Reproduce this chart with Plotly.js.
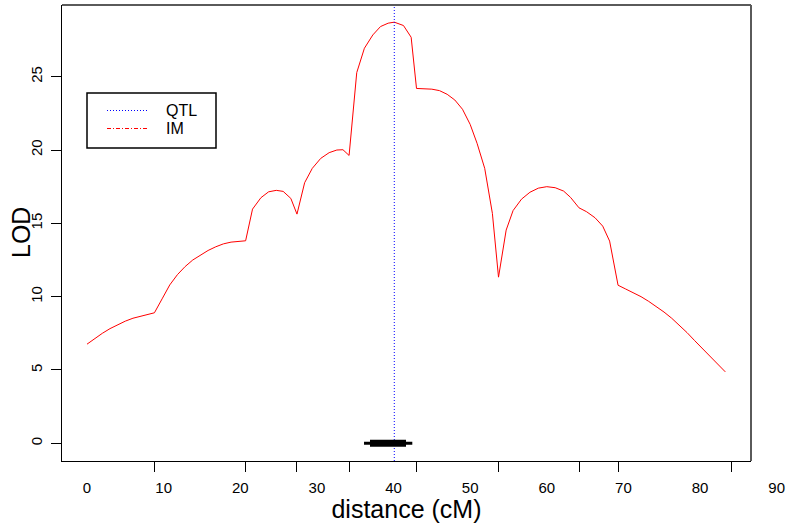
<!DOCTYPE html>
<html>
<head>
<meta charset="utf-8">
<script src="https://cdn.plot.ly/plotly-3.0.1.min.js"></script>
<style>
  html, body { margin: 0; padding: 0; background: #fff; }
  #chart { width: 786px; height: 526px; }
</style>
</head>
<body>
<div id="chart"></div>
<script>
// Interval-mapping LOD profile along the chromosome (cM)
const distance = [0, 1, 2, 3, 4, 5, 6, 7, 8, 8.8, 9.8, 10.8, 11.8, 12.8, 13.8, 14.8, 15.8, 16.8, 17.8, 18.8, 19.8,
  20.7, 21.6, 22.7, 23.7, 24.7, 25.6, 26.6, 27.4, 28.4, 29.4, 30.5, 31.6, 32.6, 33.4, 34.2, 35.2, 36.2, 37.3, 38.3,
  39.3, 40.1, 41.3, 42.3, 43.0, 44.0, 45.0, 46.0, 47.0, 48.0, 49.0, 50.0, 50.9, 51.9, 52.9, 53.7, 54.7, 55.6, 56.7,
  57.8, 58.9, 60.0, 61.1, 62.2, 63.1, 64.2, 65.2, 66.3, 67.3, 68.2, 69.3, 70.3, 71.3, 72.3, 73.3, 74.3, 75.3, 76.3,
  77.3, 78.3, 79.3, 80.3, 81.3, 82.3, 83.3];
const lod = [6.76, 7.15, 7.5, 7.82, 8.09, 8.33, 8.53, 8.68, 8.8, 8.9, 9.85, 10.8, 11.5, 12.05, 12.5, 12.85, 13.15, 13.4, 13.6, 13.72, 13.78,
  13.81, 15.97, 16.75, 17.15, 17.25, 17.18, 16.7, 15.63, 17.77, 18.75, 19.43, 19.82, 20.0, 20.02, 19.63, 25.28, 26.94, 27.85, 28.42,
  28.65, 28.72, 28.49, 27.69, 24.2, 24.18, 24.15, 24.05, 23.8, 23.41, 22.78, 21.75, 20.46, 18.75, 15.68, 11.33, 14.54, 15.87, 16.65,
  17.12, 17.4, 17.5, 17.43, 17.2, 16.77, 16.06, 15.79, 15.38, 14.81, 13.79, 10.78, 10.52, 10.27, 10.0, 9.68, 9.33, 8.95, 8.53,
  8.05, 7.55, 7.0, 6.45, 5.9, 5.38, 4.87];

// Marker positions (tick marks on the distance axis)
const markers = [8.8, 20.7, 27.4, 34.2, 43.0, 53.7, 64.3, 69.3, 84.1];

// Estimated QTL position and its support intervals at LOD 0
const qtlPos = 40.1;
const outerInterval = [36.15, 42.45];
const innerInterval = [36.93, 41.63];

// Axis labels
const distTicks = [0, 10, 20, 30, 40, 50, 60, 70, 80, 90];
const lodTicks = [0, 5, 10, 15, 20, 25];
const legendNames = ['QTL', 'IM'];

// Axis ranges
const xRange = [-3.262, 86.649];
const xLabelRange = [-3.262, 90.956];
const yRange = [-1.207, 29.89];

// Layout geometry (pixels)
const W = 786, H = 526;
const M = { l: 62, r: 2, t: 5, b: 65 };
const plotRight = 751;
const xDomEnd = (plotRight - M.l) / (W - M.l - M.r);
const plotH = H - M.t - M.b;
const dx = px => (px - M.l) / (plotRight - M.l);   // pixel -> x domain fraction
const dy = py => (H - M.b - py) / plotH;           // pixel -> y domain fraction

const font = 'Liberation Sans, Arial, Helvetica, sans-serif';

const traces = [
  {
    x: distance, y: lod, type: 'scatter', mode: 'lines',
    line: { color: '#ff0000', width: 1 }, showlegend: false, hoverinfo: 'skip'
  },
  {
    x: [qtlPos, qtlPos], y: yRange, type: 'scatter', mode: 'lines',
    line: { color: '#0000ff', width: 1, dash: '1px,2px' }, showlegend: false, hoverinfo: 'skip'
  },
  {
    x: outerInterval, y: [0, 0], type: 'scatter', mode: 'lines',
    line: { color: '#000', width: 3 }, showlegend: false, hoverinfo: 'skip'
  },
  {
    x: innerInterval, y: [0, 0], type: 'scatter', mode: 'lines',
    line: { color: '#000', width: 7 }, showlegend: false, hoverinfo: 'skip'
  },
  // empty trace that registers the labelled distance scale
  { x: [], y: [], xaxis: 'x2', yaxis: 'y', type: 'scatter', mode: 'lines', showlegend: false, hoverinfo: 'skip' }
];

// Legend box drawn with shapes and text
const legBox = { x0: 87, x1: 216, y0: 93, y1: 148 };
const legRows = [110.5, 128.5];
const legStyles = [
  { color: '#0000ff', dash: '1px,2px' },
  { color: '#ff0000', dash: '4px,2px,1px,2px' }
];

const shapes = [
  // top and right frame
  { type: 'line', xref: 'x domain', yref: 'y domain', x0: 0, x1: 1, y0: 1, y1: 1,
    line: { color: '#5a5a5a', width: 2 } },
  { type: 'line', xref: 'x domain', yref: 'y domain', x0: 1, x1: 1, y0: 0, y1: 1,
    line: { color: '#5a5a5a', width: 2 } },
  { type: 'rect', xref: 'x domain', yref: 'y domain',
    x0: dx(legBox.x0), x1: dx(legBox.x1), y0: dy(legBox.y1), y1: dy(legBox.y0),
    line: { color: '#000', width: 1.5 }, fillcolor: 'rgba(0,0,0,0)' }
];
legRows.forEach((py, i) => {
  shapes.push({ type: 'line', xref: 'x domain', yref: 'y domain',
    x0: dx(107), x1: dx(147), y0: dy(py), y1: dy(py),
    line: { color: legStyles[i].color, width: 1, dash: legStyles[i].dash } });
});
const annotations = legendNames.map((name, i) => ({
  xref: 'x domain', yref: 'y domain', x: dx(164), y: dy(legRows[i]),
  xanchor: 'left', yanchor: 'middle', text: name, showarrow: false,
  font: { family: font, size: 16, color: '#000' }
}));
// vertical axis title
annotations.push({
  xref: 'x domain', yref: 'y domain', x: dx(21), y: 0.5,
  xanchor: 'center', yanchor: 'middle', textangle: -90, text: 'LOD', showarrow: false,
  font: { family: font, size: 25, color: '#000' }
});

const layout = {
  width: W, height: H,
  margin: M,
  paper_bgcolor: '#fff', plot_bgcolor: 'rgba(0,0,0,0)',
  showlegend: false,
  xaxis: {
    domain: [0, xDomEnd], range: xRange, anchor: 'y',
    showgrid: false, zeroline: false,
    showline: true, linecolor: '#000', linewidth: 1,
    ticks: 'outside', ticklen: 10, tickwidth: 1, tickcolor: '#000',
    tickmode: 'array', tickvals: markers, showticklabels: false,
    title: { text: 'distance (cM)', font: { family: font, size: 25, color: '#000' }, standoff: 29 }
  },
  xaxis2: {
    domain: [0, 1], range: xLabelRange, anchor: 'y',
    showgrid: false, zeroline: false, showline: false,
    ticks: '', tickmode: 'array', tickvals: distTicks, ticktext: distTicks.map(String),
    ticklabelstandoff: 16,
    tickfont: { family: font, size: 15, color: '#000' }
  },
  yaxis: {
    range: yRange, anchor: 'x',
    showgrid: false, zeroline: false,
    showline: true, linecolor: '#000', linewidth: 1,
    ticks: 'outside', ticklen: 10, tickwidth: 1, tickcolor: '#000',
    tickmode: 'array', tickvals: lodTicks, ticktext: lodTicks.map(String),
    tickangle: -90, ticklabelstandoff: 3,
    tickfont: { family: font, size: 15, color: '#000' }
  },
  shapes: shapes,
  annotations: annotations
};

Plotly.newPlot('chart', traces, layout, { staticPlot: true, displayModeBar: false });
</script>
</body>
</html>
